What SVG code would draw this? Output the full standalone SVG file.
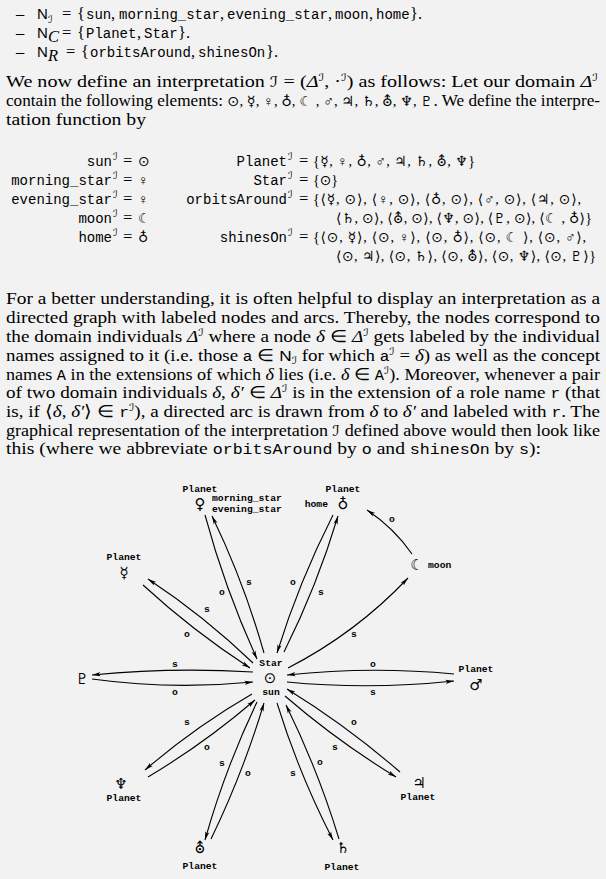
<svg xmlns="http://www.w3.org/2000/svg" width="606" height="879" viewBox="0 0 606 879">
<style>
.rm{font-family:"Liberation Serif",serif;font-size:16.5px;fill:#000}
.it{font-family:"Liberation Serif",serif;font-style:italic}
.tt{font-family:"Liberation Mono",monospace;font-size:14px;fill:#000}
.sf{font-family:"Liberation Sans",sans-serif;font-size:15px;fill:#000}
.cal{font-family:"DejaVu Sans",serif;font-size:15px;font-style:italic;fill:#000}
.sup{font-family:"DejaVu Sans",serif;font-size:10px;font-style:italic;fill:#000}
.sym{font-family:"Liberation Serif","DejaVu Sans",sans-serif;font-size:14px;fill:#000}
.lbl{font-family:"Liberation Mono",monospace;font-size:9.7px;font-weight:bold;fill:#000}
.el{font-family:"Liberation Mono",monospace;font-size:9.7px;font-weight:bold;fill:#000;text-anchor:middle}
.pl{font-family:"DejaVu Sans",sans-serif;font-size:15px;fill:#000;text-anchor:middle}
.e{fill:none;stroke:#000;stroke-width:1.1;marker-end:url(#ah)}
</style>
<defs>
<marker id="ah" markerWidth="10" markerHeight="6" refX="8.5" refY="3" orient="auto" markerUnits="userSpaceOnUse">
<path d="M0,0.9 L8.5,3 L0,5.1 L2,3 Z" fill="#000"/>
</marker>
</defs>
<rect width="606" height="879" fill="#f2f2f2"/>

<g id="intro">
<text class="rm" x="16" y="19">–</text><text class="sf" x="37" y="19">N</text><text class="sup" x="48" y="23">ℐ</text><text class="rm" x="62" y="19">=</text>
<text y="19"><tspan class="rm" x="77">{</tspan><tspan class="tt" x="86">sun</tspan><tspan class="rm" x="111">,</tspan><tspan class="tt" x="119">morning_star</tspan><tspan class="rm" x="220">,</tspan><tspan class="tt" x="227">evening_star</tspan><tspan class="rm" x="328">,</tspan><tspan class="tt" x="335">moon</tspan><tspan class="rm" x="369">,</tspan><tspan class="tt" x="376">home</tspan><tspan class="rm" x="410">}.</tspan></text>

<text class="rm" x="16" y="38">–</text><text class="sf" x="37" y="38">N</text><text class="rm it" x="48" y="42" font-size="11">C</text><text class="rm" x="62" y="38">=</text>
<text y="38"><tspan class="rm" x="77">{</tspan><tspan class="tt" x="86">Planet</tspan><tspan class="rm" x="137">,</tspan><tspan class="tt" x="144">Star</tspan><tspan class="rm" x="178">}.</tspan></text>

<text class="rm" x="16" y="57">–</text><text class="sf" x="37" y="57">N</text><text class="rm it" x="48" y="61" font-size="11">R</text><text class="rm" x="66" y="57">=</text>
<text y="57"><tspan class="rm" x="81">{</tspan><tspan class="tt" x="90">orbitsAround</tspan><tspan class="rm" x="191">,</tspan><tspan class="tt" x="198">shinesOn</tspan><tspan class="rm" x="266">}.</tspan></text>

<text class="rm" x="6" y="87" textLength="592" lengthAdjust="spacingAndGlyphs">We now define an interpretation <tspan class="cal">ℐ</tspan> = (<tspan class="it">Δ</tspan><tspan class="sup" dy="-6">ℐ</tspan><tspan dy="6">, ·</tspan><tspan class="sup" dy="-6">ℐ</tspan><tspan dy="6">) as follows: Let our domain </tspan><tspan class="it">Δ</tspan><tspan class="sup" dy="-6">ℐ</tspan></text>
<text class="rm" x="6" y="106" textLength="594" lengthAdjust="spacingAndGlyphs">contain the following elements: <tspan class="sym">⊙, ☿, ♀, ♁, ☾ , ♂, ♃, ♄, ⛢, ♆, ♇</tspan>. We define the interpre-</text>
<text class="rm" x="6" y="125" textLength="140" lengthAdjust="spacingAndGlyphs">tation function by</text>
</g>

<g id="equations">
<g class="tt" text-anchor="end">
<text x="112" y="166">sun</text><text x="112" y="185">morning_star</text><text x="112" y="204">evening_star</text><text x="112" y="223">moon</text><text x="112" y="242">home</text>
<text x="287" y="166">Planet</text><text x="287" y="185">Star</text><text x="287" y="204">orbitsAround</text><text x="287" y="242">shinesOn</text>
</g>
<g class="sup">
<text x="113" y="160">ℐ</text><text x="113" y="179">ℐ</text><text x="113" y="198">ℐ</text><text x="113" y="217">ℐ</text><text x="113" y="236">ℐ</text>
<text x="288" y="160">ℐ</text><text x="288" y="179">ℐ</text><text x="288" y="198">ℐ</text><text x="288" y="236">ℐ</text>
</g>
<g class="rm">
<text x="123" y="166">=</text><text x="123" y="185">=</text><text x="123" y="204">=</text><text x="123" y="223">=</text><text x="123" y="242">=</text>
<text x="299" y="166">=</text><text x="299" y="185">=</text><text x="299" y="204">=</text><text x="299" y="242">=</text>
</g>
<g class="sym">
<text x="138" y="166">⊙</text><text x="138" y="185">♀</text><text x="138" y="204">♀</text><text x="138" y="223">☾</text><text x="138" y="242">♁</text>
<text x="313" y="166" textLength="162" lengthAdjust="spacing">{☿, ♀, ♁, ♂, ♃, ♄, ⛢, ♆}</text>
<text x="313" y="185" textLength="25" lengthAdjust="spacing">{⊙}</text>
<text x="313" y="204" textLength="268" lengthAdjust="spacing">{⟨☿, ⊙⟩, ⟨♀, ⊙⟩, ⟨♁, ⊙⟩, ⟨♂, ⊙⟩, ⟨♃, ⊙⟩,</text>
<text x="336" y="223" textLength="256" lengthAdjust="spacing">⟨♄, ⊙⟩, ⟨⛢, ⊙⟩, ⟨♆, ⊙⟩, ⟨♇, ⊙⟩, ⟨☾ , ♁⟩}</text>
<text x="313" y="242" textLength="273" lengthAdjust="spacing">{⟨⊙, ☿⟩, ⟨⊙, ♀⟩, ⟨⊙, ♁⟩, ⟨⊙, ☾ ⟩, ⟨⊙, ♂⟩,</text>
<text x="336" y="261" textLength="260" lengthAdjust="spacing">⟨⊙, ♃⟩, ⟨⊙, ♄⟩, ⟨⊙, ⛢⟩, ⟨⊙, ♆⟩, ⟨⊙, ♇⟩}</text>
</g>
</g>

<g id="paragraph">
<text class="rm" x="6" y="304" textLength="594" lengthAdjust="spacingAndGlyphs">For a better understanding, it is often helpful to display an interpretation as a</text>
<text class="rm" x="6" y="323" textLength="594" lengthAdjust="spacingAndGlyphs">directed graph with labeled nodes and arcs. Thereby, the nodes correspond to</text>
<text class="rm" x="6" y="342" textLength="594" lengthAdjust="spacingAndGlyphs">the domain individuals <tspan class="it">Δ</tspan><tspan class="sup" dy="-6">ℐ</tspan><tspan dy="6"> where a node </tspan><tspan class="it">δ</tspan> ∈ <tspan class="it">Δ</tspan><tspan class="sup" dy="-6">ℐ</tspan><tspan dy="6"> gets labeled by the individual</tspan></text>
<text class="rm" x="6" y="361" textLength="594" lengthAdjust="spacingAndGlyphs">names assigned to it (i.e. those <tspan class="tt">a</tspan> ∈ <tspan class="sf">N</tspan><tspan class="sup" dy="2.5">ℐ</tspan><tspan dy="-2.5"> for which </tspan><tspan class="tt">a</tspan><tspan class="sup" dy="-6">ℐ</tspan><tspan dy="6"> = </tspan><tspan class="it">δ</tspan>) as well as the concept</text>
<text class="rm" x="6" y="380" textLength="594" lengthAdjust="spacingAndGlyphs">names <tspan class="tt">A</tspan> in the extensions of which <tspan class="it">δ</tspan> lies (i.e. <tspan class="it">δ</tspan> ∈ <tspan class="tt">A</tspan><tspan class="sup" dy="-6">ℐ</tspan><tspan dy="6">). Moreover, whenever a pair</tspan></text>
<text class="rm" x="6" y="398" textLength="594" lengthAdjust="spacingAndGlyphs">of two domain individuals <tspan class="it">δ</tspan>, <tspan class="it">δ′</tspan> ∈ <tspan class="it">Δ</tspan><tspan class="sup" dy="-6">ℐ</tspan><tspan dy="6"> is in the extension of a role name </tspan><tspan class="tt">r</tspan> (that</text>
<text class="rm" x="6" y="417" textLength="594" lengthAdjust="spacingAndGlyphs">is, if ⟨<tspan class="it">δ</tspan>, <tspan class="it">δ′</tspan>⟩ ∈ <tspan class="tt">r</tspan><tspan class="sup" dy="-6">ℐ</tspan><tspan dy="6">), a directed arc is drawn from </tspan><tspan class="it">δ</tspan> to <tspan class="it">δ′</tspan> and labeled with <tspan class="tt">r</tspan>. The</text>
<text class="rm" x="6" y="436" textLength="594" lengthAdjust="spacingAndGlyphs">graphical representation of the interpretation <tspan class="cal">ℐ</tspan> defined above would then look like</text>
<text class="rm" x="6" y="454" textLength="535" lengthAdjust="spacingAndGlyphs">this (where we abbreviate <tspan class="tt">orbitsAround</tspan> by <tspan class="tt">o</tspan> and <tspan class="tt">shinesOn</tspan> by <tspan class="tt">s</tspan>):</text>
</g>

<g id="connectors">
<path class="e" d="M92,679 Q172,690 253,682"/>
<path class="e" d="M253,672 Q172,667 92,675"/>
<path class="e" d="M454,674 Q370,666 287,675"/>
<path class="e" d="M287,682 Q370,690 454,681"/>
<path class="e" d="M253,663 Q204,616 148,579"/>
<path class="e" d="M143,585 Q193,631 250,668"/>
<path class="e" d="M205,515 Q225,589 257,659"/>
<path class="e" d="M264,653 Q244,582 212,516"/>
<path class="e" d="M333,515 Q299,582 277,653"/>
<path class="e" d="M284,652 Q317,586 338,516"/>
<path class="e" d="M288,668 Q356,633 408,578"/>
<path class="e" d="M412,554 Q394,528 367,510"/>
<path class="e" d="M252,694 Q195,727 145,770"/>
<path class="e" d="M148,777 Q205,743 255,700"/>
<path class="e" d="M257,702 Q225,769 205,840"/>
<path class="e" d="M211,839 Q243,773 264,703"/>
<path class="e" d="M277,703 Q299,774 333,840"/>
<path class="e" d="M339,839 Q318,770 286,705"/>
<path class="e" d="M400,772 Q347,726 287,689"/>
<path class="e" d="M285,696 Q337,741 396,777"/>
<g id="edge-labels">
<text class="el" x="175" y="667">s</text><text class="el" x="175" y="695">o</text>
<text class="el" x="373" y="667">o</text><text class="el" x="373" y="695">s</text>
<text class="el" x="207" y="612">s</text><text class="el" x="187" y="637">o</text>
<text class="el" x="222" y="595">o</text><text class="el" x="249" y="585">s</text>
<text class="el" x="293" y="585">o</text><text class="el" x="321" y="595">s</text>
<text class="el" x="354" y="637">s</text><text class="el" x="392" y="522">o</text>
<text class="el" x="187" y="725">s</text><text class="el" x="207" y="750">o</text>
<text class="el" x="222" y="766">s</text><text class="el" x="248" y="776">o</text>
<text class="el" x="293" y="776">s</text><text class="el" x="320" y="765">o</text>
<text class="el" x="354" y="725">o</text><text class="el" x="335" y="750">s</text>
</g>
</g>

<g id="node-sun"><text class="el" x="271" y="666">Star</text><text class="pl" x="270" y="683">⊙</text><text class="el" x="271" y="695">sun</text></g>
<g id="node-venus"><text class="el" x="200" y="492">Planet</text><text class="pl" x="200" y="509">♀</text><text class="lbl" x="212" y="501">morning_star</text><text class="lbl" x="212" y="511.5">evening_star</text></g>
<g id="node-earth"><text class="el" x="343" y="492">Planet</text><text class="pl" x="343" y="509">♁</text><text class="lbl" x="328" y="507" text-anchor="end">home</text></g>
<g id="node-mercury"><text class="el" x="124" y="560">Planet</text><text class="pl" x="124" y="578">☿</text></g>
<g id="node-moon"><text class="pl" x="417" y="570">☾</text><text class="lbl" x="428" y="568">moon</text></g>
<g id="node-pluto"><text class="pl" x="82" y="684">♇</text></g>
<g id="node-mars"><text class="el" x="476" y="672">Planet</text><text class="pl" x="476" y="690">♂</text></g>
<g id="node-neptune"><text class="pl" x="121" y="789">♆</text><text class="el" x="124" y="801">Planet</text></g>
<g id="node-uranus"><text class="pl" x="200" y="853">⛢</text><text class="el" x="200" y="869">Planet</text></g>
<g id="node-saturn"><text class="pl" x="343" y="853">♄</text><text class="el" x="342" y="870">Planet</text></g>
<g id="node-jupiter"><text class="pl" x="419" y="788">♃</text><text class="el" x="418" y="800">Planet</text></g>
</svg>
